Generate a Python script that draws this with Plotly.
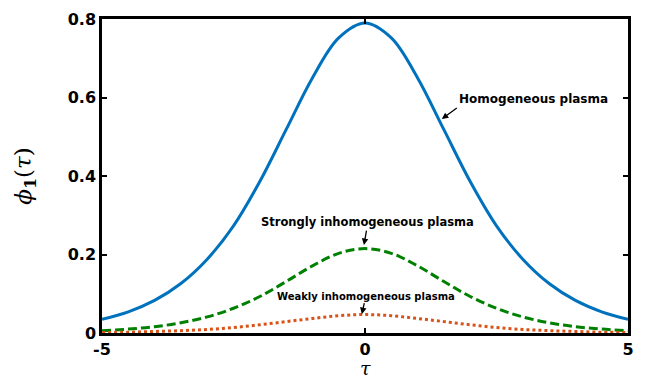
import plotly.graph_objects as go

tau = [-5.0, -4.5, -4.0, -3.5, -3.0, -2.5, -2.0, -1.5, -1.0, -0.5, 0.0,
       0.5, 1.0, 1.5, 2.0, 2.5, 3.0, 3.5, 4.0, 4.5, 5.0]
homogeneous = [0.035, 0.054, 0.083, 0.126, 0.188, 0.273, 0.386, 0.518, 0.650, 0.752, 0.790,
               0.752, 0.650, 0.518, 0.386, 0.273, 0.188, 0.126, 0.083, 0.054, 0.035]
strongly = [0.006, 0.010, 0.016, 0.026, 0.041, 0.063, 0.093, 0.131, 0.171, 0.203, 0.215,
            0.203, 0.171, 0.131, 0.093, 0.063, 0.041, 0.026, 0.016, 0.010, 0.006]
weakly = [0.0015, 0.002, 0.004, 0.006, 0.009, 0.014, 0.021, 0.029, 0.037, 0.044, 0.047,
          0.044, 0.037, 0.029, 0.021, 0.014, 0.009, 0.006, 0.004, 0.002, 0.0015]

x_ticks = [-5, 0, 5]
x_tick_labels = ["-5", "0", "5"]
y_ticks = [0, 0.2, 0.4, 0.6, 0.8]
y_tick_labels = ["0", "0.2", "0.4", "0.6", "0.8"]

fig = go.Figure()
fig.add_trace(go.Scatter(x=tau, y=homogeneous, mode="lines",
                         line=dict(color="#0072BD", width=3, shape="spline")))
fig.add_trace(go.Scatter(x=tau, y=strongly, mode="lines",
                         line=dict(color="#008000", width=3, shape="spline", dash="9px,4px")))
fig.add_trace(go.Scatter(x=tau, y=weakly, mode="lines",
                         line=dict(color="#D95319", width=3, shape="spline", dash="3px,3px")))

tickfont = dict(family="DejaVu Sans", size=16, color="black", weight="bold")
fig.update_xaxes(range=[-5, 5], tickvals=x_ticks, ticktext=x_tick_labels,
                 ticks="inside", ticklen=5, tickwidth=2, tickcolor="black",
                 showline=True, linecolor="black", linewidth=2.5, mirror="ticks",
                 showgrid=False, zeroline=False, tickfont=tickfont, automargin=False)
fig.update_yaxes(range=[0, 0.8], tickvals=y_ticks, ticktext=y_tick_labels,
                 ticks="inside", ticklen=5, tickwidth=2, tickcolor="black",
                 showline=True, linecolor="black", linewidth=2.5, mirror="ticks",
                 showgrid=False, zeroline=False, tickfont=tickfont, automargin=False,
                 title=dict(text="<i>ϕ</i><sub><b>1</b></sub>(<i>τ</i>)",
                            font=dict(family="DejaVu Serif", size=23, color="black"),
                            standoff=30))

# x-axis title placed just below the tick labels
fig.add_annotation(x=0.5, xref="paper", y=-0.113, yref="paper", text="<i>τ</i>",
                   showarrow=False, xanchor="center", yanchor="middle",
                   font=dict(family="DejaVu Serif", size=19, color="black"))

afont = dict(family="DejaVu Sans", color="black", weight="bold")
arrow = dict(showarrow=True, arrowhead=2, arrowsize=1, arrowwidth=1.3, arrowcolor="black")
fig.add_annotation(x=1.46, y=0.545, ax=15, ay=-11, text="Homogeneous plasma",
                   xanchor="left", yanchor="bottom", font=dict(size=12, **afont), **arrow)
fig.add_annotation(x=-0.02, y=0.224, ax=4, ay=-23, text="Strongly inhomogeneous plasma",
                   font=dict(size=11.5, **afont), **arrow)
fig.add_annotation(x=-0.06, y=0.048, ax=4, ay=-18, text="Weakly inhomogeneous plasma",
                   font=dict(size=10, **afont), **arrow)

fig.update_layout(width=648, height=381, showlegend=False,
                  plot_bgcolor="white", paper_bgcolor="white",
                  margin=dict(l=102, r=20, t=19, b=48))
fig.write_html("out.html")
